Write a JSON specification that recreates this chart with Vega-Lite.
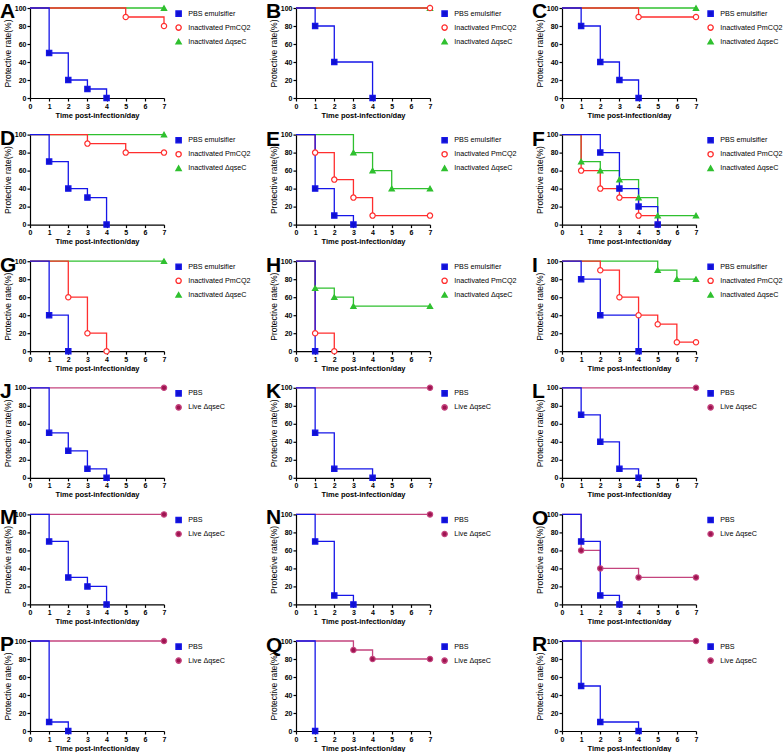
{
"$schema": "https://vega.github.io/schema/vega-lite/v6.json",
"padding": {"left": 0, "top": 0, "right": 0, "bottom": 0},
"background": "white",
"config": {
  "font": "Liberation Sans",
  "view": {"stroke": null},
  "axis": {"domainColor": "black", "domainWidth": 1.2, "tickColor": "black", "tickWidth": 1.2, "tickSize": 3, "grid": false, "labelFontSize": 7, "labelFontWeight": "bold", "labelColor": "black", "titleColor": "black", "titleFontWeight": "bold"},
  "axisX": {"titleFontSize": 7.5, "labelPadding": 1, "titlePadding": 2, "labelFlush": false},
  "axisY": {"titleFontSize": 8.5, "labelPadding": 1, "titlePadding": 2, "titleFontWeight": "normal"},
  "legend": {"orient": "right", "offset": 6, "padding": 2, "labelFontSize": 7.2, "labelColor": "black", "symbolSize": 28, "symbolStrokeWidth": 1.2, "rowPadding": 3, "labelOffset": 6},
  "line": {"interpolate": "step-after", "strokeWidth": 1.3},
  "point": {"size": 28, "strokeWidth": 1.2, "opacity": 1},
  "title": {"anchor": "start", "frame": "group", "fontSize": 21, "fontWeight": "bold", "dx": -30, "offset": -19, "baseline": "alphabetic", "color": "black"}
},
"data": {"values": [
{"panel":"A","group":"Inactivated ΔqseC","day":0,"rate":100},{"panel":"A","group":"Inactivated ΔqseC","day":7,"rate":100},
{"panel":"A","group":"Inactivated PmCQ2","day":0,"rate":100},{"panel":"A","group":"Inactivated PmCQ2","day":5,"rate":90},{"panel":"A","group":"Inactivated PmCQ2","day":7,"rate":80},
{"panel":"A","group":"PBS emulsifier","day":0,"rate":100},{"panel":"A","group":"PBS emulsifier","day":1,"rate":50},{"panel":"A","group":"PBS emulsifier","day":2,"rate":20},{"panel":"A","group":"PBS emulsifier","day":3,"rate":10},{"panel":"A","group":"PBS emulsifier","day":4,"rate":0},
{"panel":"B","group":"Inactivated ΔqseC","day":0,"rate":100},{"panel":"B","group":"Inactivated ΔqseC","day":7,"rate":100},
{"panel":"B","group":"Inactivated PmCQ2","day":0,"rate":100},{"panel":"B","group":"Inactivated PmCQ2","day":7,"rate":100},
{"panel":"B","group":"PBS emulsifier","day":0,"rate":100},{"panel":"B","group":"PBS emulsifier","day":1,"rate":80},{"panel":"B","group":"PBS emulsifier","day":2,"rate":40},{"panel":"B","group":"PBS emulsifier","day":4,"rate":0},
{"panel":"C","group":"Inactivated ΔqseC","day":0,"rate":100},{"panel":"C","group":"Inactivated ΔqseC","day":7,"rate":100},
{"panel":"C","group":"Inactivated PmCQ2","day":0,"rate":100},{"panel":"C","group":"Inactivated PmCQ2","day":4,"rate":90},{"panel":"C","group":"Inactivated PmCQ2","day":7,"rate":90},
{"panel":"C","group":"PBS emulsifier","day":0,"rate":100},{"panel":"C","group":"PBS emulsifier","day":1,"rate":80},{"panel":"C","group":"PBS emulsifier","day":2,"rate":40},{"panel":"C","group":"PBS emulsifier","day":3,"rate":20},{"panel":"C","group":"PBS emulsifier","day":4,"rate":0},
{"panel":"D","group":"Inactivated ΔqseC","day":0,"rate":100},{"panel":"D","group":"Inactivated ΔqseC","day":7,"rate":100},
{"panel":"D","group":"Inactivated PmCQ2","day":0,"rate":100},{"panel":"D","group":"Inactivated PmCQ2","day":3,"rate":90},{"panel":"D","group":"Inactivated PmCQ2","day":5,"rate":80},{"panel":"D","group":"Inactivated PmCQ2","day":7,"rate":80},
{"panel":"D","group":"PBS emulsifier","day":0,"rate":100},{"panel":"D","group":"PBS emulsifier","day":1,"rate":70},{"panel":"D","group":"PBS emulsifier","day":2,"rate":40},{"panel":"D","group":"PBS emulsifier","day":3,"rate":30},{"panel":"D","group":"PBS emulsifier","day":4,"rate":0},
{"panel":"E","group":"Inactivated ΔqseC","day":0,"rate":100},{"panel":"E","group":"Inactivated ΔqseC","day":3,"rate":80},{"panel":"E","group":"Inactivated ΔqseC","day":4,"rate":60},{"panel":"E","group":"Inactivated ΔqseC","day":5,"rate":40},{"panel":"E","group":"Inactivated ΔqseC","day":7,"rate":40},
{"panel":"E","group":"Inactivated PmCQ2","day":0,"rate":100},{"panel":"E","group":"Inactivated PmCQ2","day":1,"rate":80},{"panel":"E","group":"Inactivated PmCQ2","day":2,"rate":50},{"panel":"E","group":"Inactivated PmCQ2","day":3,"rate":30},{"panel":"E","group":"Inactivated PmCQ2","day":4,"rate":10},{"panel":"E","group":"Inactivated PmCQ2","day":7,"rate":10},
{"panel":"E","group":"PBS emulsifier","day":0,"rate":100},{"panel":"E","group":"PBS emulsifier","day":1,"rate":40},{"panel":"E","group":"PBS emulsifier","day":2,"rate":10},{"panel":"E","group":"PBS emulsifier","day":3,"rate":0},
{"panel":"F","group":"Inactivated ΔqseC","day":0,"rate":100},{"panel":"F","group":"Inactivated ΔqseC","day":1,"rate":70},{"panel":"F","group":"Inactivated ΔqseC","day":2,"rate":60},{"panel":"F","group":"Inactivated ΔqseC","day":3,"rate":50},{"panel":"F","group":"Inactivated ΔqseC","day":4,"rate":30},{"panel":"F","group":"Inactivated ΔqseC","day":5,"rate":10},{"panel":"F","group":"Inactivated ΔqseC","day":7,"rate":10},
{"panel":"F","group":"Inactivated PmCQ2","day":0,"rate":100},{"panel":"F","group":"Inactivated PmCQ2","day":1,"rate":60},{"panel":"F","group":"Inactivated PmCQ2","day":2,"rate":40},{"panel":"F","group":"Inactivated PmCQ2","day":3,"rate":30},{"panel":"F","group":"Inactivated PmCQ2","day":4,"rate":10},{"panel":"F","group":"Inactivated PmCQ2","day":5,"rate":0},
{"panel":"F","group":"PBS emulsifier","day":0,"rate":100},{"panel":"F","group":"PBS emulsifier","day":2,"rate":80},{"panel":"F","group":"PBS emulsifier","day":3,"rate":40},{"panel":"F","group":"PBS emulsifier","day":4,"rate":20},{"panel":"F","group":"PBS emulsifier","day":5,"rate":0},
{"panel":"G","group":"Inactivated ΔqseC","day":0,"rate":100},{"panel":"G","group":"Inactivated ΔqseC","day":7,"rate":100},
{"panel":"G","group":"Inactivated PmCQ2","day":0,"rate":100},{"panel":"G","group":"Inactivated PmCQ2","day":2,"rate":60},{"panel":"G","group":"Inactivated PmCQ2","day":3,"rate":20},{"panel":"G","group":"Inactivated PmCQ2","day":4,"rate":0},
{"panel":"G","group":"PBS emulsifier","day":0,"rate":100},{"panel":"G","group":"PBS emulsifier","day":1,"rate":40},{"panel":"G","group":"PBS emulsifier","day":2,"rate":0},
{"panel":"H","group":"Inactivated ΔqseC","day":0,"rate":100},{"panel":"H","group":"Inactivated ΔqseC","day":1,"rate":70},{"panel":"H","group":"Inactivated ΔqseC","day":2,"rate":60},{"panel":"H","group":"Inactivated ΔqseC","day":3,"rate":50},{"panel":"H","group":"Inactivated ΔqseC","day":7,"rate":50},
{"panel":"H","group":"Inactivated PmCQ2","day":0,"rate":100},{"panel":"H","group":"Inactivated PmCQ2","day":1,"rate":20},{"panel":"H","group":"Inactivated PmCQ2","day":2,"rate":0},
{"panel":"H","group":"PBS emulsifier","day":0,"rate":100},{"panel":"H","group":"PBS emulsifier","day":1,"rate":0},
{"panel":"I","group":"Inactivated ΔqseC","day":0,"rate":100},{"panel":"I","group":"Inactivated ΔqseC","day":5,"rate":90},{"panel":"I","group":"Inactivated ΔqseC","day":6,"rate":80},{"panel":"I","group":"Inactivated ΔqseC","day":7,"rate":80},
{"panel":"I","group":"Inactivated PmCQ2","day":0,"rate":100},{"panel":"I","group":"Inactivated PmCQ2","day":2,"rate":90},{"panel":"I","group":"Inactivated PmCQ2","day":3,"rate":60},{"panel":"I","group":"Inactivated PmCQ2","day":4,"rate":40},{"panel":"I","group":"Inactivated PmCQ2","day":5,"rate":30},{"panel":"I","group":"Inactivated PmCQ2","day":6,"rate":10},{"panel":"I","group":"Inactivated PmCQ2","day":7,"rate":10},
{"panel":"I","group":"PBS emulsifier","day":0,"rate":100},{"panel":"I","group":"PBS emulsifier","day":1,"rate":80},{"panel":"I","group":"PBS emulsifier","day":2,"rate":40},{"panel":"I","group":"PBS emulsifier","day":4,"rate":0},
{"panel":"J","group":"Live ΔqseC","day":0,"rate":100},{"panel":"J","group":"Live ΔqseC","day":7,"rate":100},
{"panel":"J","group":"PBS","day":0,"rate":100},{"panel":"J","group":"PBS","day":1,"rate":50},{"panel":"J","group":"PBS","day":2,"rate":30},{"panel":"J","group":"PBS","day":3,"rate":10},{"panel":"J","group":"PBS","day":4,"rate":0},
{"panel":"K","group":"Live ΔqseC","day":0,"rate":100},{"panel":"K","group":"Live ΔqseC","day":7,"rate":100},
{"panel":"K","group":"PBS","day":0,"rate":100},{"panel":"K","group":"PBS","day":1,"rate":50},{"panel":"K","group":"PBS","day":2,"rate":10},{"panel":"K","group":"PBS","day":4,"rate":0},
{"panel":"L","group":"Live ΔqseC","day":0,"rate":100},{"panel":"L","group":"Live ΔqseC","day":7,"rate":100},
{"panel":"L","group":"PBS","day":0,"rate":100},{"panel":"L","group":"PBS","day":1,"rate":70},{"panel":"L","group":"PBS","day":2,"rate":40},{"panel":"L","group":"PBS","day":3,"rate":10},{"panel":"L","group":"PBS","day":4,"rate":0},
{"panel":"M","group":"Live ΔqseC","day":0,"rate":100},{"panel":"M","group":"Live ΔqseC","day":7,"rate":100},
{"panel":"M","group":"PBS","day":0,"rate":100},{"panel":"M","group":"PBS","day":1,"rate":70},{"panel":"M","group":"PBS","day":2,"rate":30},{"panel":"M","group":"PBS","day":3,"rate":20},{"panel":"M","group":"PBS","day":4,"rate":0},
{"panel":"N","group":"Live ΔqseC","day":0,"rate":100},{"panel":"N","group":"Live ΔqseC","day":7,"rate":100},
{"panel":"N","group":"PBS","day":0,"rate":100},{"panel":"N","group":"PBS","day":1,"rate":70},{"panel":"N","group":"PBS","day":2,"rate":10},{"panel":"N","group":"PBS","day":3,"rate":0},
{"panel":"O","group":"Live ΔqseC","day":0,"rate":100},{"panel":"O","group":"Live ΔqseC","day":1,"rate":60},{"panel":"O","group":"Live ΔqseC","day":2,"rate":40},{"panel":"O","group":"Live ΔqseC","day":4,"rate":30},{"panel":"O","group":"Live ΔqseC","day":7,"rate":30},
{"panel":"O","group":"PBS","day":0,"rate":100},{"panel":"O","group":"PBS","day":1,"rate":70},{"panel":"O","group":"PBS","day":2,"rate":10},{"panel":"O","group":"PBS","day":3,"rate":0},
{"panel":"P","group":"Live ΔqseC","day":0,"rate":100},{"panel":"P","group":"Live ΔqseC","day":7,"rate":100},
{"panel":"P","group":"PBS","day":0,"rate":100},{"panel":"P","group":"PBS","day":1,"rate":10},{"panel":"P","group":"PBS","day":2,"rate":0},
{"panel":"Q","group":"Live ΔqseC","day":0,"rate":100},{"panel":"Q","group":"Live ΔqseC","day":3,"rate":90},{"panel":"Q","group":"Live ΔqseC","day":4,"rate":80},{"panel":"Q","group":"Live ΔqseC","day":7,"rate":80},
{"panel":"Q","group":"PBS","day":0,"rate":100},{"panel":"Q","group":"PBS","day":1,"rate":0},
{"panel":"R","group":"Live ΔqseC","day":0,"rate":100},{"panel":"R","group":"Live ΔqseC","day":7,"rate":100},
{"panel":"R","group":"PBS","day":0,"rate":100},{"panel":"R","group":"PBS","day":1,"rate":50},{"panel":"R","group":"PBS","day":2,"rate":10},{"panel":"R","group":"PBS","day":4,"rate":0}
]},
"columns": 3,
"spacing": {"row": 36.6, "column": 132},
"bounds": "flush",
"resolve": {"scale": {"stroke": "independent", "fill": "independent", "shape": "independent"}, "legend": {"stroke": "independent", "fill": "independent", "shape": "independent"}},
"concat": [
{"title":"A","width":134,"height":90,"transform":[{"filter":"datum.panel == 'A'"}],"encoding":{"x":{"field":"day","type":"quantitative","scale":{"domain":[0,7],"nice":false},"axis":{"values":[0,1,2,3,4,5,6,7],"title":"Time post-infection/day"}},"y":{"field":"rate","type":"quantitative","scale":{"domain":[0,100],"nice":false},"axis":{"values":[0,20,40,60,80,100],"title":"Protective rate(%)"}},"stroke":{"field":"group","type":"nominal","title":null,"scale":{"domain":["PBS emulsifier","Inactivated PmCQ2","Inactivated ΔqseC","PBS","Live ΔqseC"],"range":["#1616e8","#ff2e2e","#2fc02f","#1616e8","#c4447e"]},"legend":{"values":["PBS emulsifier","Inactivated PmCQ2","Inactivated ΔqseC"]}}},"layer":[{"transform":[{"filter":"datum.group == 'Inactivated ΔqseC'"}],"mark":"line"},{"transform":[{"filter":"datum.group == 'Inactivated PmCQ2'"}],"mark":"line"},{"transform":[{"filter":"datum.group == 'PBS emulsifier'"}],"mark":"line"},{"transform":[{"filter":"datum.day > 0"}],"mark":"point","encoding":{"fill":{"field":"group","type":"nominal","title":null,"scale":{"domain":["PBS emulsifier","Inactivated PmCQ2","Inactivated ΔqseC","PBS","Live ΔqseC"],"range":["#1010d0","#ffffff","#2fc02f","#1010d0","#9e1450"]},"legend":{"values":["PBS emulsifier","Inactivated PmCQ2","Inactivated ΔqseC"]}},"shape":{"field":"group","type":"nominal","title":null,"scale":{"domain":["PBS emulsifier","Inactivated PmCQ2","Inactivated ΔqseC","PBS","Live ΔqseC"],"range":["square","circle","triangle-up","square","circle"]},"legend":{"values":["PBS emulsifier","Inactivated PmCQ2","Inactivated ΔqseC"]}}}}]},
{"title":"B","width":134,"height":90,"transform":[{"filter":"datum.panel == 'B'"}],"encoding":{"x":{"field":"day","type":"quantitative","scale":{"domain":[0,7],"nice":false},"axis":{"values":[0,1,2,3,4,5,6,7],"title":"Time post-infection/day"}},"y":{"field":"rate","type":"quantitative","scale":{"domain":[0,100],"nice":false},"axis":{"values":[0,20,40,60,80,100],"title":"Protective rate(%)"}},"stroke":{"field":"group","type":"nominal","title":null,"scale":{"domain":["PBS emulsifier","Inactivated PmCQ2","Inactivated ΔqseC","PBS","Live ΔqseC"],"range":["#1616e8","#ff2e2e","#2fc02f","#1616e8","#c4447e"]},"legend":{"values":["PBS emulsifier","Inactivated PmCQ2","Inactivated ΔqseC"]}}},"layer":[{"transform":[{"filter":"datum.group == 'Inactivated ΔqseC'"}],"mark":"line"},{"transform":[{"filter":"datum.group == 'Inactivated PmCQ2'"}],"mark":"line"},{"transform":[{"filter":"datum.group == 'PBS emulsifier'"}],"mark":"line"},{"transform":[{"filter":"datum.day > 0"}],"mark":"point","encoding":{"fill":{"field":"group","type":"nominal","title":null,"scale":{"domain":["PBS emulsifier","Inactivated PmCQ2","Inactivated ΔqseC","PBS","Live ΔqseC"],"range":["#1010d0","#ffffff","#2fc02f","#1010d0","#9e1450"]},"legend":{"values":["PBS emulsifier","Inactivated PmCQ2","Inactivated ΔqseC"]}},"shape":{"field":"group","type":"nominal","title":null,"scale":{"domain":["PBS emulsifier","Inactivated PmCQ2","Inactivated ΔqseC","PBS","Live ΔqseC"],"range":["square","circle","triangle-up","square","circle"]},"legend":{"values":["PBS emulsifier","Inactivated PmCQ2","Inactivated ΔqseC"]}}}}]},
{"title":"C","width":134,"height":90,"transform":[{"filter":"datum.panel == 'C'"}],"encoding":{"x":{"field":"day","type":"quantitative","scale":{"domain":[0,7],"nice":false},"axis":{"values":[0,1,2,3,4,5,6,7],"title":"Time post-infection/day"}},"y":{"field":"rate","type":"quantitative","scale":{"domain":[0,100],"nice":false},"axis":{"values":[0,20,40,60,80,100],"title":"Protective rate(%)"}},"stroke":{"field":"group","type":"nominal","title":null,"scale":{"domain":["PBS emulsifier","Inactivated PmCQ2","Inactivated ΔqseC","PBS","Live ΔqseC"],"range":["#1616e8","#ff2e2e","#2fc02f","#1616e8","#c4447e"]},"legend":{"values":["PBS emulsifier","Inactivated PmCQ2","Inactivated ΔqseC"]}}},"layer":[{"transform":[{"filter":"datum.group == 'Inactivated ΔqseC'"}],"mark":"line"},{"transform":[{"filter":"datum.group == 'Inactivated PmCQ2'"}],"mark":"line"},{"transform":[{"filter":"datum.group == 'PBS emulsifier'"}],"mark":"line"},{"transform":[{"filter":"datum.day > 0"}],"mark":"point","encoding":{"fill":{"field":"group","type":"nominal","title":null,"scale":{"domain":["PBS emulsifier","Inactivated PmCQ2","Inactivated ΔqseC","PBS","Live ΔqseC"],"range":["#1010d0","#ffffff","#2fc02f","#1010d0","#9e1450"]},"legend":{"values":["PBS emulsifier","Inactivated PmCQ2","Inactivated ΔqseC"]}},"shape":{"field":"group","type":"nominal","title":null,"scale":{"domain":["PBS emulsifier","Inactivated PmCQ2","Inactivated ΔqseC","PBS","Live ΔqseC"],"range":["square","circle","triangle-up","square","circle"]},"legend":{"values":["PBS emulsifier","Inactivated PmCQ2","Inactivated ΔqseC"]}}}}]},
{"title":"D","width":134,"height":90,"transform":[{"filter":"datum.panel == 'D'"}],"encoding":{"x":{"field":"day","type":"quantitative","scale":{"domain":[0,7],"nice":false},"axis":{"values":[0,1,2,3,4,5,6,7],"title":"Time post-infection/day"}},"y":{"field":"rate","type":"quantitative","scale":{"domain":[0,100],"nice":false},"axis":{"values":[0,20,40,60,80,100],"title":"Protective rate(%)"}},"stroke":{"field":"group","type":"nominal","title":null,"scale":{"domain":["PBS emulsifier","Inactivated PmCQ2","Inactivated ΔqseC","PBS","Live ΔqseC"],"range":["#1616e8","#ff2e2e","#2fc02f","#1616e8","#c4447e"]},"legend":{"values":["PBS emulsifier","Inactivated PmCQ2","Inactivated ΔqseC"]}}},"layer":[{"transform":[{"filter":"datum.group == 'Inactivated ΔqseC'"}],"mark":"line"},{"transform":[{"filter":"datum.group == 'Inactivated PmCQ2'"}],"mark":"line"},{"transform":[{"filter":"datum.group == 'PBS emulsifier'"}],"mark":"line"},{"transform":[{"filter":"datum.day > 0"}],"mark":"point","encoding":{"fill":{"field":"group","type":"nominal","title":null,"scale":{"domain":["PBS emulsifier","Inactivated PmCQ2","Inactivated ΔqseC","PBS","Live ΔqseC"],"range":["#1010d0","#ffffff","#2fc02f","#1010d0","#9e1450"]},"legend":{"values":["PBS emulsifier","Inactivated PmCQ2","Inactivated ΔqseC"]}},"shape":{"field":"group","type":"nominal","title":null,"scale":{"domain":["PBS emulsifier","Inactivated PmCQ2","Inactivated ΔqseC","PBS","Live ΔqseC"],"range":["square","circle","triangle-up","square","circle"]},"legend":{"values":["PBS emulsifier","Inactivated PmCQ2","Inactivated ΔqseC"]}}}}]},
{"title":"E","width":134,"height":90,"transform":[{"filter":"datum.panel == 'E'"}],"encoding":{"x":{"field":"day","type":"quantitative","scale":{"domain":[0,7],"nice":false},"axis":{"values":[0,1,2,3,4,5,6,7],"title":"Time post-infection/day"}},"y":{"field":"rate","type":"quantitative","scale":{"domain":[0,100],"nice":false},"axis":{"values":[0,20,40,60,80,100],"title":"Protective rate(%)"}},"stroke":{"field":"group","type":"nominal","title":null,"scale":{"domain":["PBS emulsifier","Inactivated PmCQ2","Inactivated ΔqseC","PBS","Live ΔqseC"],"range":["#1616e8","#ff2e2e","#2fc02f","#1616e8","#c4447e"]},"legend":{"values":["PBS emulsifier","Inactivated PmCQ2","Inactivated ΔqseC"]}}},"layer":[{"transform":[{"filter":"datum.group == 'Inactivated ΔqseC'"}],"mark":"line"},{"transform":[{"filter":"datum.group == 'Inactivated PmCQ2'"}],"mark":"line"},{"transform":[{"filter":"datum.group == 'PBS emulsifier'"}],"mark":"line"},{"transform":[{"filter":"datum.day > 0"}],"mark":"point","encoding":{"fill":{"field":"group","type":"nominal","title":null,"scale":{"domain":["PBS emulsifier","Inactivated PmCQ2","Inactivated ΔqseC","PBS","Live ΔqseC"],"range":["#1010d0","#ffffff","#2fc02f","#1010d0","#9e1450"]},"legend":{"values":["PBS emulsifier","Inactivated PmCQ2","Inactivated ΔqseC"]}},"shape":{"field":"group","type":"nominal","title":null,"scale":{"domain":["PBS emulsifier","Inactivated PmCQ2","Inactivated ΔqseC","PBS","Live ΔqseC"],"range":["square","circle","triangle-up","square","circle"]},"legend":{"values":["PBS emulsifier","Inactivated PmCQ2","Inactivated ΔqseC"]}}}}]},
{"title":"F","width":134,"height":90,"transform":[{"filter":"datum.panel == 'F'"}],"encoding":{"x":{"field":"day","type":"quantitative","scale":{"domain":[0,7],"nice":false},"axis":{"values":[0,1,2,3,4,5,6,7],"title":"Time post-infection/day"}},"y":{"field":"rate","type":"quantitative","scale":{"domain":[0,100],"nice":false},"axis":{"values":[0,20,40,60,80,100],"title":"Protective rate(%)"}},"stroke":{"field":"group","type":"nominal","title":null,"scale":{"domain":["PBS emulsifier","Inactivated PmCQ2","Inactivated ΔqseC","PBS","Live ΔqseC"],"range":["#1616e8","#ff2e2e","#2fc02f","#1616e8","#c4447e"]},"legend":{"values":["PBS emulsifier","Inactivated PmCQ2","Inactivated ΔqseC"]}}},"layer":[{"transform":[{"filter":"datum.group == 'Inactivated ΔqseC'"}],"mark":"line"},{"transform":[{"filter":"datum.group == 'Inactivated PmCQ2'"}],"mark":"line"},{"transform":[{"filter":"datum.group == 'PBS emulsifier'"}],"mark":"line"},{"transform":[{"filter":"datum.day > 0"}],"mark":"point","encoding":{"fill":{"field":"group","type":"nominal","title":null,"scale":{"domain":["PBS emulsifier","Inactivated PmCQ2","Inactivated ΔqseC","PBS","Live ΔqseC"],"range":["#1010d0","#ffffff","#2fc02f","#1010d0","#9e1450"]},"legend":{"values":["PBS emulsifier","Inactivated PmCQ2","Inactivated ΔqseC"]}},"shape":{"field":"group","type":"nominal","title":null,"scale":{"domain":["PBS emulsifier","Inactivated PmCQ2","Inactivated ΔqseC","PBS","Live ΔqseC"],"range":["square","circle","triangle-up","square","circle"]},"legend":{"values":["PBS emulsifier","Inactivated PmCQ2","Inactivated ΔqseC"]}}}}]},
{"title":"G","width":134,"height":90,"transform":[{"filter":"datum.panel == 'G'"}],"encoding":{"x":{"field":"day","type":"quantitative","scale":{"domain":[0,7],"nice":false},"axis":{"values":[0,1,2,3,4,5,6,7],"title":"Time post-infection/day"}},"y":{"field":"rate","type":"quantitative","scale":{"domain":[0,100],"nice":false},"axis":{"values":[0,20,40,60,80,100],"title":"Protective rate(%)"}},"stroke":{"field":"group","type":"nominal","title":null,"scale":{"domain":["PBS emulsifier","Inactivated PmCQ2","Inactivated ΔqseC","PBS","Live ΔqseC"],"range":["#1616e8","#ff2e2e","#2fc02f","#1616e8","#c4447e"]},"legend":{"values":["PBS emulsifier","Inactivated PmCQ2","Inactivated ΔqseC"]}}},"layer":[{"transform":[{"filter":"datum.group == 'Inactivated ΔqseC'"}],"mark":"line"},{"transform":[{"filter":"datum.group == 'Inactivated PmCQ2'"}],"mark":"line"},{"transform":[{"filter":"datum.group == 'PBS emulsifier'"}],"mark":"line"},{"transform":[{"filter":"datum.day > 0"}],"mark":"point","encoding":{"fill":{"field":"group","type":"nominal","title":null,"scale":{"domain":["PBS emulsifier","Inactivated PmCQ2","Inactivated ΔqseC","PBS","Live ΔqseC"],"range":["#1010d0","#ffffff","#2fc02f","#1010d0","#9e1450"]},"legend":{"values":["PBS emulsifier","Inactivated PmCQ2","Inactivated ΔqseC"]}},"shape":{"field":"group","type":"nominal","title":null,"scale":{"domain":["PBS emulsifier","Inactivated PmCQ2","Inactivated ΔqseC","PBS","Live ΔqseC"],"range":["square","circle","triangle-up","square","circle"]},"legend":{"values":["PBS emulsifier","Inactivated PmCQ2","Inactivated ΔqseC"]}}}}]},
{"title":"H","width":134,"height":90,"transform":[{"filter":"datum.panel == 'H'"}],"encoding":{"x":{"field":"day","type":"quantitative","scale":{"domain":[0,7],"nice":false},"axis":{"values":[0,1,2,3,4,5,6,7],"title":"Time post-infection/day"}},"y":{"field":"rate","type":"quantitative","scale":{"domain":[0,100],"nice":false},"axis":{"values":[0,20,40,60,80,100],"title":"Protective rate(%)"}},"stroke":{"field":"group","type":"nominal","title":null,"scale":{"domain":["PBS emulsifier","Inactivated PmCQ2","Inactivated ΔqseC","PBS","Live ΔqseC"],"range":["#1616e8","#ff2e2e","#2fc02f","#1616e8","#c4447e"]},"legend":{"values":["PBS emulsifier","Inactivated PmCQ2","Inactivated ΔqseC"]}}},"layer":[{"transform":[{"filter":"datum.group == 'Inactivated ΔqseC'"}],"mark":"line"},{"transform":[{"filter":"datum.group == 'Inactivated PmCQ2'"}],"mark":"line"},{"transform":[{"filter":"datum.group == 'PBS emulsifier'"}],"mark":"line"},{"transform":[{"filter":"datum.day > 0"}],"mark":"point","encoding":{"fill":{"field":"group","type":"nominal","title":null,"scale":{"domain":["PBS emulsifier","Inactivated PmCQ2","Inactivated ΔqseC","PBS","Live ΔqseC"],"range":["#1010d0","#ffffff","#2fc02f","#1010d0","#9e1450"]},"legend":{"values":["PBS emulsifier","Inactivated PmCQ2","Inactivated ΔqseC"]}},"shape":{"field":"group","type":"nominal","title":null,"scale":{"domain":["PBS emulsifier","Inactivated PmCQ2","Inactivated ΔqseC","PBS","Live ΔqseC"],"range":["square","circle","triangle-up","square","circle"]},"legend":{"values":["PBS emulsifier","Inactivated PmCQ2","Inactivated ΔqseC"]}}}}]},
{"title":"I","width":134,"height":90,"transform":[{"filter":"datum.panel == 'I'"}],"encoding":{"x":{"field":"day","type":"quantitative","scale":{"domain":[0,7],"nice":false},"axis":{"values":[0,1,2,3,4,5,6,7],"title":"Time post-infection/day"}},"y":{"field":"rate","type":"quantitative","scale":{"domain":[0,100],"nice":false},"axis":{"values":[0,20,40,60,80,100],"title":"Protective rate(%)"}},"stroke":{"field":"group","type":"nominal","title":null,"scale":{"domain":["PBS emulsifier","Inactivated PmCQ2","Inactivated ΔqseC","PBS","Live ΔqseC"],"range":["#1616e8","#ff2e2e","#2fc02f","#1616e8","#c4447e"]},"legend":{"values":["PBS emulsifier","Inactivated PmCQ2","Inactivated ΔqseC"]}}},"layer":[{"transform":[{"filter":"datum.group == 'Inactivated ΔqseC'"}],"mark":"line"},{"transform":[{"filter":"datum.group == 'Inactivated PmCQ2'"}],"mark":"line"},{"transform":[{"filter":"datum.group == 'PBS emulsifier'"}],"mark":"line"},{"transform":[{"filter":"datum.day > 0"}],"mark":"point","encoding":{"fill":{"field":"group","type":"nominal","title":null,"scale":{"domain":["PBS emulsifier","Inactivated PmCQ2","Inactivated ΔqseC","PBS","Live ΔqseC"],"range":["#1010d0","#ffffff","#2fc02f","#1010d0","#9e1450"]},"legend":{"values":["PBS emulsifier","Inactivated PmCQ2","Inactivated ΔqseC"]}},"shape":{"field":"group","type":"nominal","title":null,"scale":{"domain":["PBS emulsifier","Inactivated PmCQ2","Inactivated ΔqseC","PBS","Live ΔqseC"],"range":["square","circle","triangle-up","square","circle"]},"legend":{"values":["PBS emulsifier","Inactivated PmCQ2","Inactivated ΔqseC"]}}}}]},
{"title":"J","width":134,"height":90,"transform":[{"filter":"datum.panel == 'J'"}],"encoding":{"x":{"field":"day","type":"quantitative","scale":{"domain":[0,7],"nice":false},"axis":{"values":[0,1,2,3,4,5,6,7],"title":"Time post-infection/day"}},"y":{"field":"rate","type":"quantitative","scale":{"domain":[0,100],"nice":false},"axis":{"values":[0,20,40,60,80,100],"title":"Protective rate(%)"}},"stroke":{"field":"group","type":"nominal","title":null,"scale":{"domain":["PBS emulsifier","Inactivated PmCQ2","Inactivated ΔqseC","PBS","Live ΔqseC"],"range":["#1616e8","#ff2e2e","#2fc02f","#1616e8","#c4447e"]},"legend":{"values":["PBS","Live ΔqseC"]}}},"layer":[{"transform":[{"filter":"datum.group == 'Live ΔqseC'"}],"mark":"line"},{"transform":[{"filter":"datum.group == 'PBS'"}],"mark":"line"},{"transform":[{"filter":"datum.day > 0"}],"mark":"point","encoding":{"fill":{"field":"group","type":"nominal","title":null,"scale":{"domain":["PBS emulsifier","Inactivated PmCQ2","Inactivated ΔqseC","PBS","Live ΔqseC"],"range":["#1010d0","#ffffff","#2fc02f","#1010d0","#9e1450"]},"legend":{"values":["PBS","Live ΔqseC"]}},"shape":{"field":"group","type":"nominal","title":null,"scale":{"domain":["PBS emulsifier","Inactivated PmCQ2","Inactivated ΔqseC","PBS","Live ΔqseC"],"range":["square","circle","triangle-up","square","circle"]},"legend":{"values":["PBS","Live ΔqseC"]}}}}]},
{"title":"K","width":134,"height":90,"transform":[{"filter":"datum.panel == 'K'"}],"encoding":{"x":{"field":"day","type":"quantitative","scale":{"domain":[0,7],"nice":false},"axis":{"values":[0,1,2,3,4,5,6,7],"title":"Time post-infection/day"}},"y":{"field":"rate","type":"quantitative","scale":{"domain":[0,100],"nice":false},"axis":{"values":[0,20,40,60,80,100],"title":"Protective rate(%)"}},"stroke":{"field":"group","type":"nominal","title":null,"scale":{"domain":["PBS emulsifier","Inactivated PmCQ2","Inactivated ΔqseC","PBS","Live ΔqseC"],"range":["#1616e8","#ff2e2e","#2fc02f","#1616e8","#c4447e"]},"legend":{"values":["PBS","Live ΔqseC"]}}},"layer":[{"transform":[{"filter":"datum.group == 'Live ΔqseC'"}],"mark":"line"},{"transform":[{"filter":"datum.group == 'PBS'"}],"mark":"line"},{"transform":[{"filter":"datum.day > 0"}],"mark":"point","encoding":{"fill":{"field":"group","type":"nominal","title":null,"scale":{"domain":["PBS emulsifier","Inactivated PmCQ2","Inactivated ΔqseC","PBS","Live ΔqseC"],"range":["#1010d0","#ffffff","#2fc02f","#1010d0","#9e1450"]},"legend":{"values":["PBS","Live ΔqseC"]}},"shape":{"field":"group","type":"nominal","title":null,"scale":{"domain":["PBS emulsifier","Inactivated PmCQ2","Inactivated ΔqseC","PBS","Live ΔqseC"],"range":["square","circle","triangle-up","square","circle"]},"legend":{"values":["PBS","Live ΔqseC"]}}}}]},
{"title":"L","width":134,"height":90,"transform":[{"filter":"datum.panel == 'L'"}],"encoding":{"x":{"field":"day","type":"quantitative","scale":{"domain":[0,7],"nice":false},"axis":{"values":[0,1,2,3,4,5,6,7],"title":"Time post-infection/day"}},"y":{"field":"rate","type":"quantitative","scale":{"domain":[0,100],"nice":false},"axis":{"values":[0,20,40,60,80,100],"title":"Protective rate(%)"}},"stroke":{"field":"group","type":"nominal","title":null,"scale":{"domain":["PBS emulsifier","Inactivated PmCQ2","Inactivated ΔqseC","PBS","Live ΔqseC"],"range":["#1616e8","#ff2e2e","#2fc02f","#1616e8","#c4447e"]},"legend":{"values":["PBS","Live ΔqseC"]}}},"layer":[{"transform":[{"filter":"datum.group == 'Live ΔqseC'"}],"mark":"line"},{"transform":[{"filter":"datum.group == 'PBS'"}],"mark":"line"},{"transform":[{"filter":"datum.day > 0"}],"mark":"point","encoding":{"fill":{"field":"group","type":"nominal","title":null,"scale":{"domain":["PBS emulsifier","Inactivated PmCQ2","Inactivated ΔqseC","PBS","Live ΔqseC"],"range":["#1010d0","#ffffff","#2fc02f","#1010d0","#9e1450"]},"legend":{"values":["PBS","Live ΔqseC"]}},"shape":{"field":"group","type":"nominal","title":null,"scale":{"domain":["PBS emulsifier","Inactivated PmCQ2","Inactivated ΔqseC","PBS","Live ΔqseC"],"range":["square","circle","triangle-up","square","circle"]},"legend":{"values":["PBS","Live ΔqseC"]}}}}]},
{"title":"M","width":134,"height":90,"transform":[{"filter":"datum.panel == 'M'"}],"encoding":{"x":{"field":"day","type":"quantitative","scale":{"domain":[0,7],"nice":false},"axis":{"values":[0,1,2,3,4,5,6,7],"title":"Time post-infection/day"}},"y":{"field":"rate","type":"quantitative","scale":{"domain":[0,100],"nice":false},"axis":{"values":[0,20,40,60,80,100],"title":"Protective rate(%)"}},"stroke":{"field":"group","type":"nominal","title":null,"scale":{"domain":["PBS emulsifier","Inactivated PmCQ2","Inactivated ΔqseC","PBS","Live ΔqseC"],"range":["#1616e8","#ff2e2e","#2fc02f","#1616e8","#c4447e"]},"legend":{"values":["PBS","Live ΔqseC"]}}},"layer":[{"transform":[{"filter":"datum.group == 'Live ΔqseC'"}],"mark":"line"},{"transform":[{"filter":"datum.group == 'PBS'"}],"mark":"line"},{"transform":[{"filter":"datum.day > 0"}],"mark":"point","encoding":{"fill":{"field":"group","type":"nominal","title":null,"scale":{"domain":["PBS emulsifier","Inactivated PmCQ2","Inactivated ΔqseC","PBS","Live ΔqseC"],"range":["#1010d0","#ffffff","#2fc02f","#1010d0","#9e1450"]},"legend":{"values":["PBS","Live ΔqseC"]}},"shape":{"field":"group","type":"nominal","title":null,"scale":{"domain":["PBS emulsifier","Inactivated PmCQ2","Inactivated ΔqseC","PBS","Live ΔqseC"],"range":["square","circle","triangle-up","square","circle"]},"legend":{"values":["PBS","Live ΔqseC"]}}}}]},
{"title":"N","width":134,"height":90,"transform":[{"filter":"datum.panel == 'N'"}],"encoding":{"x":{"field":"day","type":"quantitative","scale":{"domain":[0,7],"nice":false},"axis":{"values":[0,1,2,3,4,5,6,7],"title":"Time post-infection/day"}},"y":{"field":"rate","type":"quantitative","scale":{"domain":[0,100],"nice":false},"axis":{"values":[0,20,40,60,80,100],"title":"Protective rate(%)"}},"stroke":{"field":"group","type":"nominal","title":null,"scale":{"domain":["PBS emulsifier","Inactivated PmCQ2","Inactivated ΔqseC","PBS","Live ΔqseC"],"range":["#1616e8","#ff2e2e","#2fc02f","#1616e8","#c4447e"]},"legend":{"values":["PBS","Live ΔqseC"]}}},"layer":[{"transform":[{"filter":"datum.group == 'Live ΔqseC'"}],"mark":"line"},{"transform":[{"filter":"datum.group == 'PBS'"}],"mark":"line"},{"transform":[{"filter":"datum.day > 0"}],"mark":"point","encoding":{"fill":{"field":"group","type":"nominal","title":null,"scale":{"domain":["PBS emulsifier","Inactivated PmCQ2","Inactivated ΔqseC","PBS","Live ΔqseC"],"range":["#1010d0","#ffffff","#2fc02f","#1010d0","#9e1450"]},"legend":{"values":["PBS","Live ΔqseC"]}},"shape":{"field":"group","type":"nominal","title":null,"scale":{"domain":["PBS emulsifier","Inactivated PmCQ2","Inactivated ΔqseC","PBS","Live ΔqseC"],"range":["square","circle","triangle-up","square","circle"]},"legend":{"values":["PBS","Live ΔqseC"]}}}}]},
{"title":"O","width":134,"height":90,"transform":[{"filter":"datum.panel == 'O'"}],"encoding":{"x":{"field":"day","type":"quantitative","scale":{"domain":[0,7],"nice":false},"axis":{"values":[0,1,2,3,4,5,6,7],"title":"Time post-infection/day"}},"y":{"field":"rate","type":"quantitative","scale":{"domain":[0,100],"nice":false},"axis":{"values":[0,20,40,60,80,100],"title":"Protective rate(%)"}},"stroke":{"field":"group","type":"nominal","title":null,"scale":{"domain":["PBS emulsifier","Inactivated PmCQ2","Inactivated ΔqseC","PBS","Live ΔqseC"],"range":["#1616e8","#ff2e2e","#2fc02f","#1616e8","#c4447e"]},"legend":{"values":["PBS","Live ΔqseC"]}}},"layer":[{"transform":[{"filter":"datum.group == 'Live ΔqseC'"}],"mark":"line"},{"transform":[{"filter":"datum.group == 'PBS'"}],"mark":"line"},{"transform":[{"filter":"datum.day > 0"}],"mark":"point","encoding":{"fill":{"field":"group","type":"nominal","title":null,"scale":{"domain":["PBS emulsifier","Inactivated PmCQ2","Inactivated ΔqseC","PBS","Live ΔqseC"],"range":["#1010d0","#ffffff","#2fc02f","#1010d0","#9e1450"]},"legend":{"values":["PBS","Live ΔqseC"]}},"shape":{"field":"group","type":"nominal","title":null,"scale":{"domain":["PBS emulsifier","Inactivated PmCQ2","Inactivated ΔqseC","PBS","Live ΔqseC"],"range":["square","circle","triangle-up","square","circle"]},"legend":{"values":["PBS","Live ΔqseC"]}}}}]},
{"title":"P","width":134,"height":90,"transform":[{"filter":"datum.panel == 'P'"}],"encoding":{"x":{"field":"day","type":"quantitative","scale":{"domain":[0,7],"nice":false},"axis":{"values":[0,1,2,3,4,5,6,7],"title":"Time post-infection/day"}},"y":{"field":"rate","type":"quantitative","scale":{"domain":[0,100],"nice":false},"axis":{"values":[0,20,40,60,80,100],"title":"Protective rate(%)"}},"stroke":{"field":"group","type":"nominal","title":null,"scale":{"domain":["PBS emulsifier","Inactivated PmCQ2","Inactivated ΔqseC","PBS","Live ΔqseC"],"range":["#1616e8","#ff2e2e","#2fc02f","#1616e8","#c4447e"]},"legend":{"values":["PBS","Live ΔqseC"]}}},"layer":[{"transform":[{"filter":"datum.group == 'Live ΔqseC'"}],"mark":"line"},{"transform":[{"filter":"datum.group == 'PBS'"}],"mark":"line"},{"transform":[{"filter":"datum.day > 0"}],"mark":"point","encoding":{"fill":{"field":"group","type":"nominal","title":null,"scale":{"domain":["PBS emulsifier","Inactivated PmCQ2","Inactivated ΔqseC","PBS","Live ΔqseC"],"range":["#1010d0","#ffffff","#2fc02f","#1010d0","#9e1450"]},"legend":{"values":["PBS","Live ΔqseC"]}},"shape":{"field":"group","type":"nominal","title":null,"scale":{"domain":["PBS emulsifier","Inactivated PmCQ2","Inactivated ΔqseC","PBS","Live ΔqseC"],"range":["square","circle","triangle-up","square","circle"]},"legend":{"values":["PBS","Live ΔqseC"]}}}}]},
{"title":"Q","width":134,"height":90,"transform":[{"filter":"datum.panel == 'Q'"}],"encoding":{"x":{"field":"day","type":"quantitative","scale":{"domain":[0,7],"nice":false},"axis":{"values":[0,1,2,3,4,5,6,7],"title":"Time post-infection/day"}},"y":{"field":"rate","type":"quantitative","scale":{"domain":[0,100],"nice":false},"axis":{"values":[0,20,40,60,80,100],"title":"Protective rate(%)"}},"stroke":{"field":"group","type":"nominal","title":null,"scale":{"domain":["PBS emulsifier","Inactivated PmCQ2","Inactivated ΔqseC","PBS","Live ΔqseC"],"range":["#1616e8","#ff2e2e","#2fc02f","#1616e8","#c4447e"]},"legend":{"values":["PBS","Live ΔqseC"]}}},"layer":[{"transform":[{"filter":"datum.group == 'Live ΔqseC'"}],"mark":"line"},{"transform":[{"filter":"datum.group == 'PBS'"}],"mark":"line"},{"transform":[{"filter":"datum.day > 0"}],"mark":"point","encoding":{"fill":{"field":"group","type":"nominal","title":null,"scale":{"domain":["PBS emulsifier","Inactivated PmCQ2","Inactivated ΔqseC","PBS","Live ΔqseC"],"range":["#1010d0","#ffffff","#2fc02f","#1010d0","#9e1450"]},"legend":{"values":["PBS","Live ΔqseC"]}},"shape":{"field":"group","type":"nominal","title":null,"scale":{"domain":["PBS emulsifier","Inactivated PmCQ2","Inactivated ΔqseC","PBS","Live ΔqseC"],"range":["square","circle","triangle-up","square","circle"]},"legend":{"values":["PBS","Live ΔqseC"]}}}}]},
{"title":"R","width":134,"height":90,"transform":[{"filter":"datum.panel == 'R'"}],"encoding":{"x":{"field":"day","type":"quantitative","scale":{"domain":[0,7],"nice":false},"axis":{"values":[0,1,2,3,4,5,6,7],"title":"Time post-infection/day"}},"y":{"field":"rate","type":"quantitative","scale":{"domain":[0,100],"nice":false},"axis":{"values":[0,20,40,60,80,100],"title":"Protective rate(%)"}},"stroke":{"field":"group","type":"nominal","title":null,"scale":{"domain":["PBS emulsifier","Inactivated PmCQ2","Inactivated ΔqseC","PBS","Live ΔqseC"],"range":["#1616e8","#ff2e2e","#2fc02f","#1616e8","#c4447e"]},"legend":{"values":["PBS","Live ΔqseC"]}}},"layer":[{"transform":[{"filter":"datum.group == 'Live ΔqseC'"}],"mark":"line"},{"transform":[{"filter":"datum.group == 'PBS'"}],"mark":"line"},{"transform":[{"filter":"datum.day > 0"}],"mark":"point","encoding":{"fill":{"field":"group","type":"nominal","title":null,"scale":{"domain":["PBS emulsifier","Inactivated PmCQ2","Inactivated ΔqseC","PBS","Live ΔqseC"],"range":["#1010d0","#ffffff","#2fc02f","#1010d0","#9e1450"]},"legend":{"values":["PBS","Live ΔqseC"]}},"shape":{"field":"group","type":"nominal","title":null,"scale":{"domain":["PBS emulsifier","Inactivated PmCQ2","Inactivated ΔqseC","PBS","Live ΔqseC"],"range":["square","circle","triangle-up","square","circle"]},"legend":{"values":["PBS","Live ΔqseC"]}}}}]}
]
}
